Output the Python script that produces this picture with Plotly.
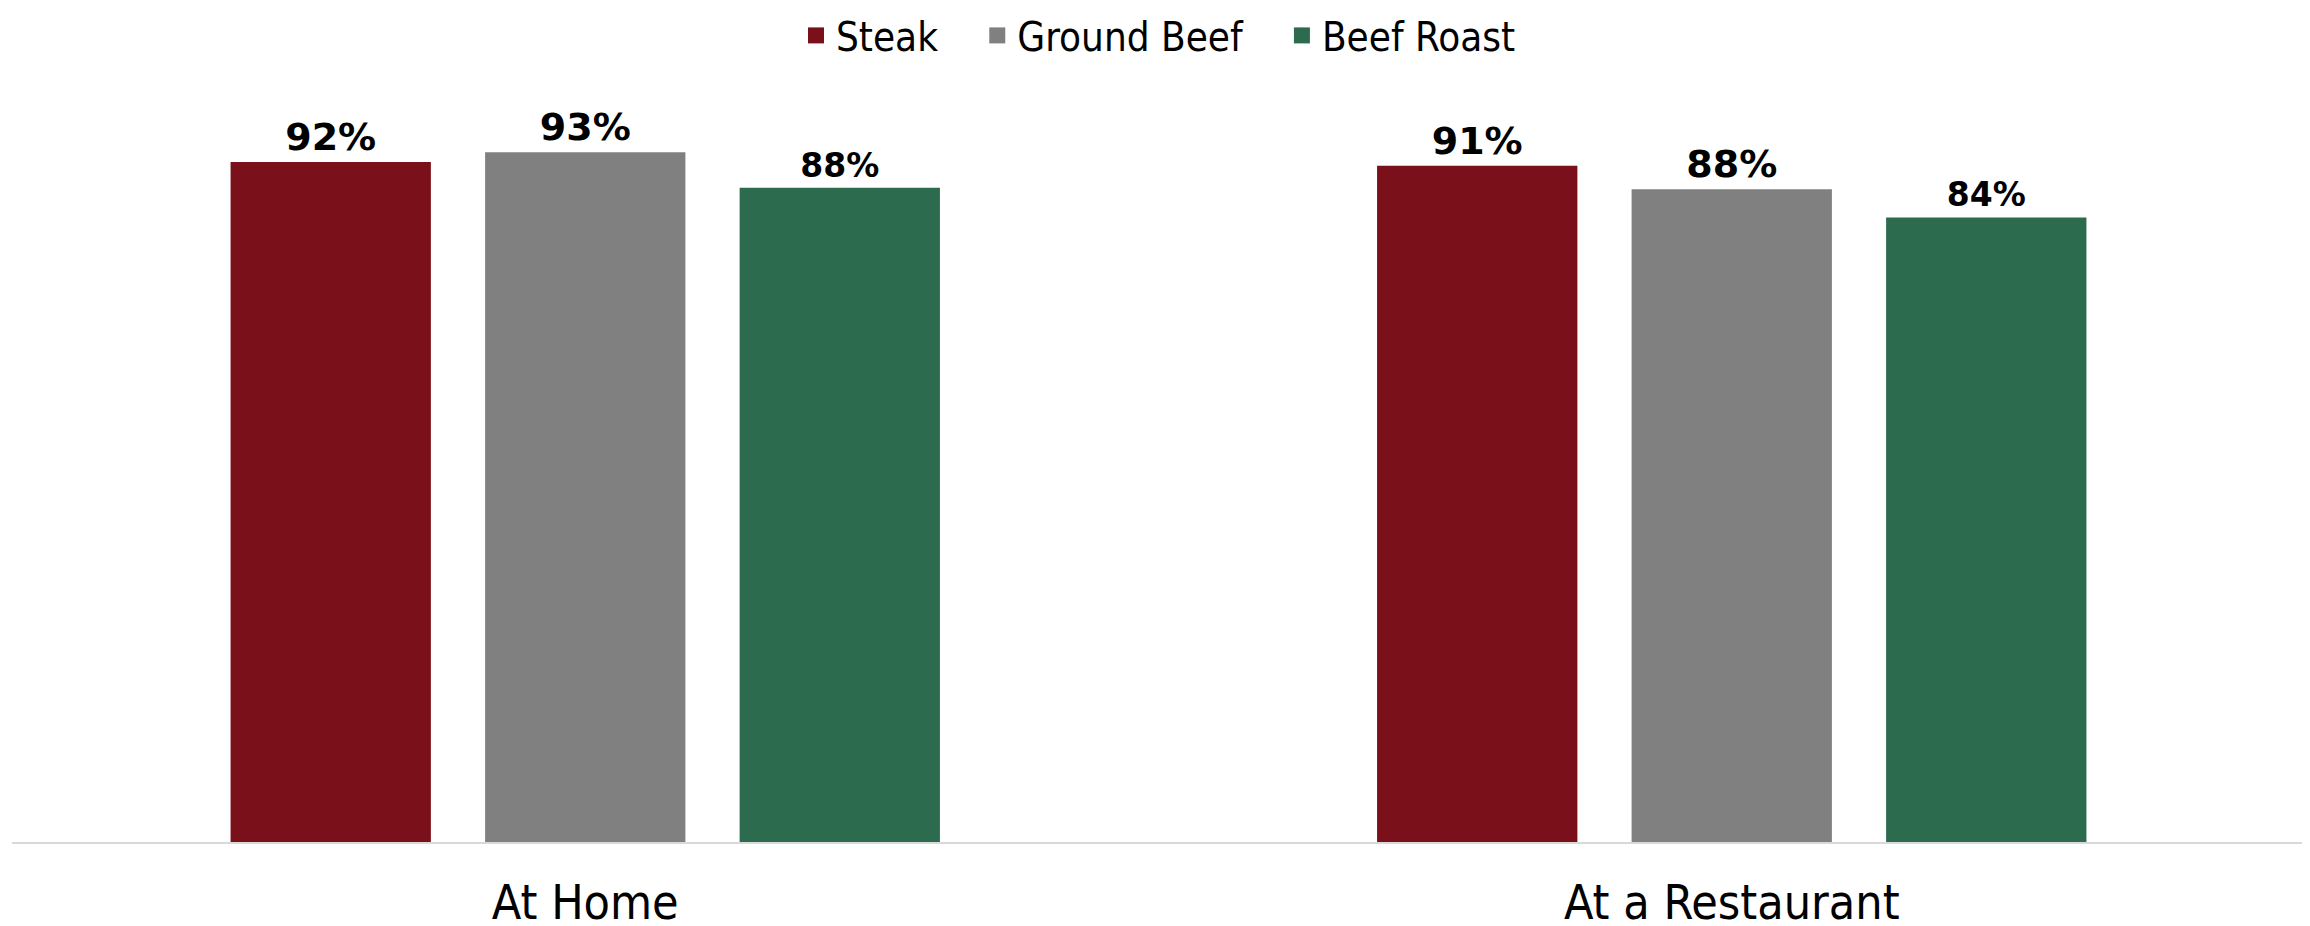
import plotly.graph_objects as go

categories = ["At Home", "At a Restaurant"]
series_names = ["Steak", "Ground Beef", "Beef Roast"]
steak = [0.919, 0.914]
ground_beef = [0.932, 0.882]
beef_roast = [0.884, 0.844]

colors = ["#7A111A", "#808080", "#2C6B4E"]
label_sizes = [[38, 38], [38, 38], [33, 33]]
legend_pad = ["\u00a0\u00a0\u00a0", "\u00a0\u00a0\u00a0", ""]

COND = "DejaVu Sans Condensed, DejaVu Sans, sans-serif"
BOLD = "DejaVu Sans, sans-serif"

fig = go.Figure()
for name, vals, color, sizes, pad in zip(series_names, [steak, ground_beef, beef_roast],
                                         colors, label_sizes, legend_pad):
    fig.add_trace(go.Bar(
        x=categories, y=vals, name=name,
        marker=dict(color=color, line=dict(width=0)),
        texttemplate="%{y:.0%}", textposition="outside", cliponaxis=False,
        textfont=dict(family=BOLD, size=sizes, color="black", weight="bold"),
        showlegend=False,
    ))
    fig.add_trace(go.Scatter(
        x=[None], y=[None], mode="markers", name=name + pad,
        marker=dict(symbol="square", size=16, color=color),
    ))

# the page body adds an 8px offset; margins compensate for it
fig.update_layout(
    width=2310, height=926,
    margin=dict(l=4, r=13, t=94, b=92, autoexpand=False),
    paper_bgcolor="white", plot_bgcolor="white",
    bargap=0.334, bargroupgap=0.213,
    legend=dict(orientation="h", x=0.5, xanchor="center", y=1.09, yref="paper",
                yanchor="middle", font=dict(family=COND, size=40, color="black"),
                itemwidth=30, bgcolor="rgba(0,0,0,0)"),
    xaxis=dict(showline=True, linecolor="#D9D9D9", linewidth=2, ticks="",
               tickfont=dict(family=COND, size=48, color="black"), automargin=False,
               ticklabelstandoff=17, showgrid=False, zeroline=False),
    yaxis=dict(range=[0, 1], visible=False, showgrid=False, zeroline=False),
)

fig.write_html("out.html")
